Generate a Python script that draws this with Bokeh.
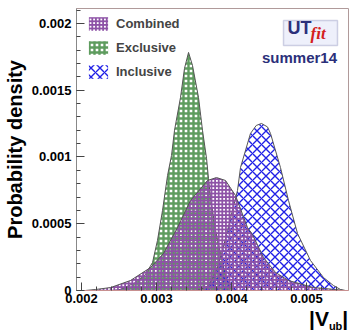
from bokeh.plotting import figure
from bokeh.models import (Range1d, FixedTicker, Legend, LegendItem, Label, BoxAnnotation, Div)
from bokeh.layouts import column
from bokeh.embed import file_html
from bokeh.resources import INLINE

# ---- data ----
excl_x = [0.00240, 0.00252, 0.00272, 0.002853, 0.002947, 0.003013, 0.00308, 0.003147,
          0.00320, 0.00324, 0.00332, 0.003373, 0.003427, 0.00348, 0.00356, 0.003613,
          0.003667, 0.003693, 0.00372, 0.003787, 0.003853, 0.00392, 0.003987, 0.00406]
excl_y = [0.0, 0.0000075, 0.00006, 0.00012, 0.00021, 0.000375, 0.0006, 0.000861,
          0.001011, 0.0012, 0.001446, 0.001663, 0.001783, 0.001685, 0.001446, 0.0012,
          0.000989, 0.000839, 0.000697, 0.00045, 0.000277, 0.000112, 0.000022, 0.0]

incl_x = [0.00350, 0.003587, 0.003693, 0.00380, 0.00388, 0.003947, 0.004013, 0.00408,
          0.00412, 0.004253, 0.00433, 0.00440, 0.00448, 0.00452, 0.004653, 0.00476,
          0.00488, 0.005053, 0.005227, 0.00536, 0.005453, 0.00552]
incl_y = [0.0, 0.0000075, 0.000037, 0.00015, 0.0003, 0.00045, 0.0006, 0.000749,
          0.000921, 0.001176, 0.001236, 0.001251, 0.001225, 0.001176, 0.000921, 0.000674,
          0.000427, 0.000225, 0.000097, 0.000037, 0.0000075, 0.0]

comb_x = [0.00205, 0.002187, 0.002387, 0.002653, 0.00292, 0.003093, 0.00328, 0.003453,
          0.00368, 0.00380, 0.00392, 0.004053, 0.004213, 0.00428, 0.004427, 0.004587,
          0.00476, 0.005093, 0.005387, 0.00550]
comb_y = [0.0, 0.0000075, 0.000022, 0.000075, 0.000172, 0.000277, 0.000472, 0.000674,
          0.000824, 0.000846, 0.000824, 0.000712, 0.000472, 0.000419, 0.000247, 0.000135,
          0.000075, 0.000022, 0.0000075, 0.0]

series_names = ["Combined", "Exclusive", "Inclusive"]

x_tick_values = [0.002, 0.003, 0.004, 0.005]
x_tick_labels = ["0.002", "0.003", "0.004", "0.005"]
y_tick_values = [0.0, 0.0005, 0.001, 0.0015, 0.002]
y_tick_labels = ["0", "0.0005", "0.001", "0.0015", "0.002"]

FONT = "Liberation Sans"

p = figure(width=349, height=330, output_backend="svg", toolbar_location=None,
           x_range=Range1d(0.001933, 0.00556), y_range=Range1d(0.0, 0.002112),
           min_border_left=76, min_border_right=1, min_border_top=8, min_border_bottom=40)
p.background_fill_color = "white"
p.border_fill_color = "white"
p.outline_line_color = "#b09a9a"
p.grid.visible = False

# ---- curves ----
r_ex = p.varea(x=excl_x, y1=0, y2=excl_y, fill_alpha=0,
               hatch_pattern="+", hatch_color="#5e9c5e", hatch_weight=2.4, hatch_scale=5)
p.line(excl_x, excl_y, line_color="#555555", line_width=1)
r_in = p.varea(x=incl_x, y1=0, y2=incl_y, fill_alpha=0,
               hatch_pattern="x", hatch_color="#1f1fe6", hatch_weight=1.4, hatch_scale=9)
p.line(incl_x, incl_y, line_color="#555555", line_width=1)
r_co = p.varea(x=comb_x, y1=0, y2=comb_y, fill_alpha=0,
               hatch_pattern="+", hatch_color="#8d52a6", hatch_weight=1.9, hatch_scale=3.6)
p.line(comb_x, comb_y, line_color="#555555", line_width=1)

# ---- axes ----
for ax in (p.xaxis[0], p.yaxis[0]):
    ax.axis_line_color = "#888888"
    ax.major_tick_line_color = "#444444"
    ax.minor_tick_line_color = "#444444"
    ax.major_tick_in = 8
    ax.major_tick_out = 0
    ax.minor_tick_in = 4
    ax.minor_tick_out = 0
    ax.major_label_text_font = FONT
    ax.major_label_text_font_style = "bold"
    ax.major_label_text_font_size = "13px"
    ax.major_label_text_color = "black"

p.xaxis[0].ticker = FixedTicker(ticks=x_tick_values,
                                minor_ticks=[0.002 + i * 0.0002 for i in range(-1, 19)])
p.xaxis[0].major_label_overrides = dict(zip(x_tick_values, x_tick_labels))
p.xaxis[0].major_label_standoff = 3
p.xaxis[0].axis_line_color = "#c89090"

p.yaxis[0].ticker = FixedTicker(ticks=y_tick_values,
                                minor_ticks=[i * 0.0001 for i in range(22)])
p.yaxis[0].major_label_overrides = dict(zip(y_tick_values, y_tick_labels))
p.yaxis[0].major_label_standoff = 5
p.yaxis[0].axis_label = "Probability density"
p.yaxis[0].axis_label_text_font = FONT
p.yaxis[0].axis_label_text_font_style = "bold"
p.yaxis[0].axis_label_text_font_size = "20px"
p.yaxis[0].axis_label_text_color = "black"
p.yaxis[0].axis_label_standoff = 3

# ---- legend ----
legend = Legend(items=[LegendItem(label=series_names[0], renderers=[r_co]),
                       LegendItem(label=series_names[1], renderers=[r_ex]),
                       LegendItem(label=series_names[2], renderers=[r_in])],
                location=(10, 210), margin=0, padding=0, spacing=7,
                glyph_width=24, glyph_height=17, label_standoff=6,
                label_text_font=FONT, label_text_font_style="bold",
                label_text_font_size="13px", label_height=17,
                background_fill_alpha=0, border_line_alpha=0)
p.add_layout(legend, "center")

# ---- UTfit logo ----
p.add_layout(BoxAnnotation(left=207, right=261, bottom=245, top=270,
                           left_units="screen", right_units="screen",
                           bottom_units="screen", top_units="screen",
                           fill_color="#eef0fb", fill_alpha=1,
                           line_color="#6a70a8", line_width=1.5))
p.add_layout(Label(x=211, y=253, x_units="screen", y_units="screen", text="UT",
                   text_font=FONT, text_font_style="bold", text_font_size="18px",
                   text_color="#2b2f7a"))
p.add_layout(Label(x=234, y=248, x_units="screen", y_units="screen", text="fit",
                   text_font="Liberation Serif", text_font_style="bold italic",
                   text_font_size="17px", text_color="#d42020"))
p.add_layout(Label(x=223, y=225, x_units="screen", y_units="screen", text="summer14",
                   text_align="center", text_font=FONT, text_font_style="bold",
                   text_font_size="15px", text_color="#2b2f7a"))

# ---- x axis title |V_ub| (overlaid text, outside the plot frame) ----
x_title = Div(text="|V<sub style='font-size:11px;vertical-align:-4px'>ub</sub>|",
              width=40, height=22, margin=0,
              styles={"position": "absolute", "left": "309px", "top": "309px",
                      "font-family": "'Liberation Sans'", "font-weight": "bold",
                      "font-size": "21px", "line-height": "20px", "color": "black",
                      "white-space": "nowrap", "z-index": "10"})

layout = column(p, x_title, spacing=0)
open("out.html", "w").write(file_html(layout, INLINE))
